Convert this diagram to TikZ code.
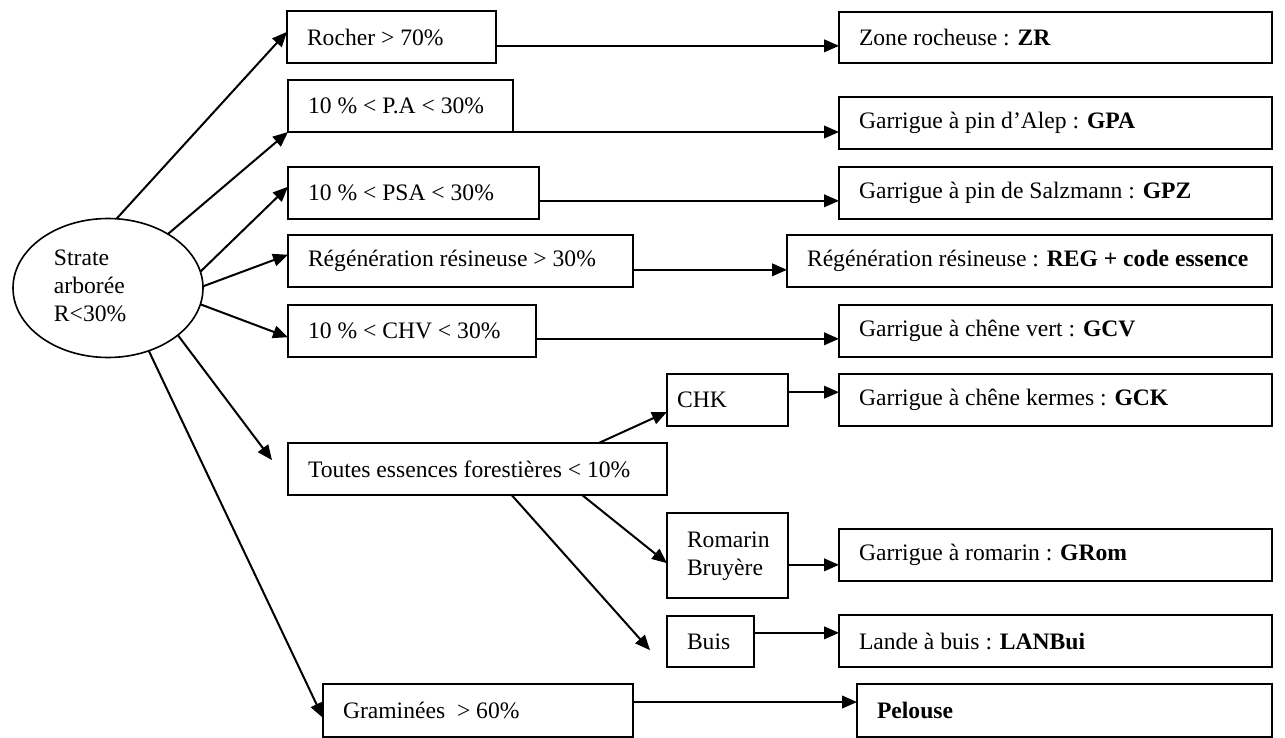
\documentclass[tikz,border=0pt]{standalone}
\usepackage{fontspec}
\setmainfont{Liberation Serif}
\usetikzlibrary{arrows.meta,calc,shapes.geometric}
\tikzset{
  box/.style={draw=black, line width=1pt, rectangle, inner ysep=0pt, outer sep=0pt},
  ell/.style={ellipse, draw=black, line width=0.8pt, inner sep=0pt, outer sep=0pt,
              minimum width=95pt, minimum height=69.5pt},
  arr/.style={line width=1pt, -{Triangle[length=7.5pt,width=6.3pt]}}
}
% name, x1, y1, x2, y2 (pixels); text in \boxtext ; optional: left inset
\newcommand\boxnode[6][10pt]{%
  \pgfmathsetlengthmacro\bw{(#5-#3)*0.5pt}%
  \pgfmathsetlengthmacro\bh{(#6-#4)*0.5pt}%
  \pgfmathsetlengthmacro\tw{(#5-#3)*0.5pt-2*#1}%
  \node[box, inner xsep=#1, minimum width=\bw, minimum height=\bh, anchor=north west]
    (#2) at (#3,#4) {\makebox[\tw][l]{\boxtext}};}
\begin{document}
\begin{tikzpicture}[x=0.5pt, y=-0.5pt, font=\fontsize{11.8}{14}\selectfont]
\useasboundingbox (0,0) rectangle (1285,738);

% root ellipse
\node[ell] (e) at (108,288)
  {\makebox[54pt][l]{\begin{tabular}{@{}l@{}}Strate\\arborée\\R<30\%\end{tabular}}};

% condition boxes
\def\boxtext{Rocher > 70\%}\boxnode{c1}{287}{11}{496}{63}
\def\boxtext{10 \% < P.A < 30\%}\boxnode{c2}{288}{80}{513}{132}
\def\boxtext{10 \% < PSA < 30\%}\boxnode{c3}{288}{167}{539}{219}
\def\boxtext{Régénération résineuse > 30\%}\boxnode{c4}{288}{235}{633}{287}
\def\boxtext{10 \% < CHV < 30\%}\boxnode{c5}{288}{305}{536}{357}
\def\boxtext{Toutes essences forestières < 10\%}\boxnode{c6}{288}{443}{667}{495}
\def\boxtext{CHK}\boxnode[5pt]{s1}{667}{374}{788}{426}
\def\boxtext{\begin{tabular}{@{}l@{}}Romarin\\Bruyère\end{tabular}}\boxnode{s2}{667}{513}{788}{598}
\def\boxtext{Buis}\boxnode{s3}{667}{616}{754}{667}
\def\boxtext{Graminées\ \ > 60\%}\boxnode{c7}{323}{684}{633}{737}

% result boxes
\def\boxtext{Zone rocheuse : \textbf{ZR}}\boxnode{r1}{839}{12}{1272}{63}
\def\boxtext{Garrigue à pin d’Alep : \textbf{GPA}}\boxnode{r2}{839}{97}{1272}{149}
\def\boxtext{Garrigue à pin de Salzmann : \textbf{GPZ}}\boxnode{r3}{839}{167}{1272}{219}
\def\boxtext{Régénération résineuse : \textbf{REG + code essence}}\boxnode{r4}{787}{235}{1272}{287}
\def\boxtext{Garrigue à chêne vert : \textbf{GCV}}\boxnode{r5}{839}{305}{1272}{357}
\def\boxtext{Garrigue à chêne kermes : \textbf{GCK}}\boxnode{r6}{839}{374}{1272}{426}
\def\boxtext{Garrigue à romarin : \textbf{GRom}}\boxnode{r7}{839}{529}{1272}{581}
\def\boxtext{Lande à buis : \textbf{LANBui}}\boxnode{r8}{839}{615}{1272}{667}
\def\boxtext{\textbf{Pelouse}}\boxnode{r9}{857}{684}{1272}{737}

% arrows from the ellipse
\draw[arr] (e.83) -- ($(c1.north west)!0.4!(c1.south west)$);
\draw[arr] (e.42) -- (c2.south west);
\draw[arr] (e.10) -- ($(c3.north west)!0.38!(c3.south west)$);
\draw[arr] (e.1) -- ($(c4.north west)!0.38!(c4.south west)$);
\draw[arr] (e.-10) -- ($(c5.north west)!0.62!(c5.south west)$);
\coordinate (t6) at ($(c6.north west)!0.33!(c6.south west)+(-16,0)$);
\draw[arr] (e.-34) -- (t6);
\draw[arr] (e.-57) -- ($(c7.north west)!0.64!(c7.south west)$);

% arrows from "Toutes essences"
\draw[arr] ($(c6.north west)!0.82!(c6.north east)$) -- ($(s1.north west)!0.73!(s1.south west)$);
\draw[arr] ($(c6.south west)!0.776!(c6.south east)$) -- ($(s2.north west)!0.59!(s2.south west)$);
\coordinate (t8) at ($(s3.north west)!0.67!(s3.south west)+(-17,0)$);
\draw[arr] ($(c6.south west)!0.59!(c6.south east)$) -- (t8);

% horizontal arrows to results
\draw[arr] (c2.south east) -- (c2.south east -| r2.west);
\foreach \a/\b/\f in {c1/r1/0.67, c3/r3/0.65, c4/r4/0.67, c5/r5/0.65,
                      s1/r6/0.35, s2/r7/0.61, s3/r8/0.33, c7/r9/0.34}
  \draw[arr] ($(\a.north east)!\f!(\a.south east)$) coordinate (h) -- (h -| \b.west);
\end{tikzpicture}
\end{document}
